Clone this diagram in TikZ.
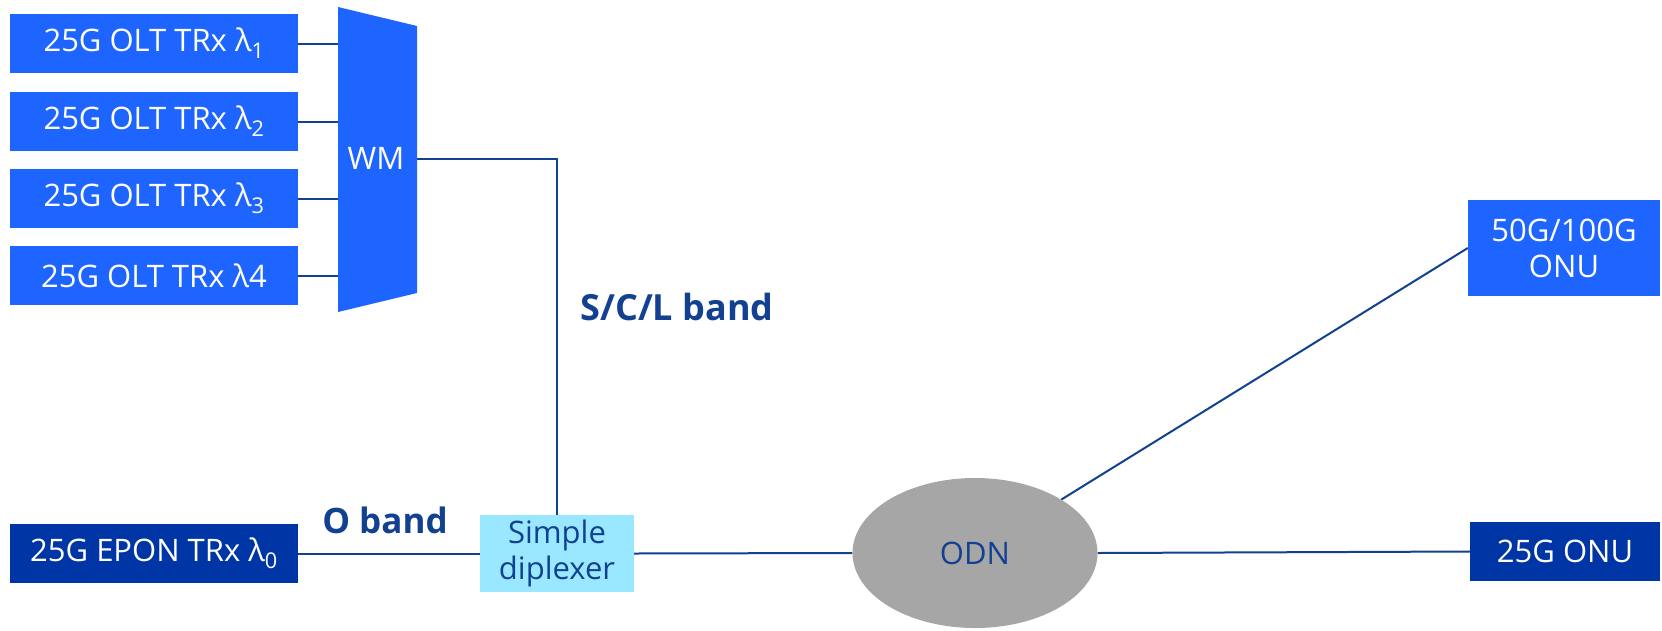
\documentclass[tikz,border=0pt]{standalone}
\usepackage{fontspec}
\setmainfont{Open Sans}
\usetikzlibrary{shapes.geometric,backgrounds}
\definecolor{brightblue}{RGB}{30,100,255}
\definecolor{darkbox}{RGB}{0,53,166}
\definecolor{linecol}{RGB}{18,65,145}
\definecolor{dipfill}{RGB}{153,232,255}
\definecolor{odngray}{RGB}{166,166,166}
\begin{document}
\begin{tikzpicture}[x=1pt,y=-1pt,
  box/.style={rectangle, inner sep=0pt, font=\fontsize{31}{36}\selectfont, text=white, align=center},
  oltbox/.style={box, fill=brightblue, minimum width=288pt, minimum height=59pt},
  darkbox/.style={box, fill=darkbox},
  conn/.style={draw=linecol, line width=2pt},
  bandlabel/.style={font=\fontsize{36}{40}\selectfont\bfseries, text=linecol, inner sep=0pt}]
\useasboundingbox (0,0) rectangle (1662,630);

% OLT transceivers
\node[oltbox] (olt1) at (154,43.5) {25G OLT TRx λ\textsubscript{1}};
\node[oltbox] (olt2) at (154,121.5) {25G OLT TRx λ\textsubscript{2}};
\node[oltbox] (olt3) at (154,198.5) {25G OLT TRx λ\textsubscript{3}};
\node[oltbox] (olt4) at (154,275.5) {25G OLT TRx λ4};

% WM trapezoid
\fill[brightblue] (338,7) -- (417,26) -- (417,293) -- (338,312) -- cycle;
\node[box] (wm) at (376,158) {WM};
\coordinate (wmL) at (340,0);
\coordinate (wmR) at (417,159);

% EPON
\node[darkbox, minimum width=288pt, minimum height=59pt] (epon) at (154,553.5) {25G EPON TRx λ\textsubscript{0}};

% Diplexer
\node[box, fill=dipfill, text=linecol, minimum width=154pt, minimum height=77pt] (dip) at (557,553.5) {Simple\\diplexer};

% ODN
\node[ellipse, fill=odngray, inner sep=0pt, minimum width=245pt, minimum height=150pt,
      text=linecol, font=\fontsize{31}{36}\selectfont] (odn) at (975,553) {ODN};

% ONUs
\node[box, fill=brightblue, minimum width=192pt, minimum height=96pt] (onu50) at (1564,248) {50G/100G\\ONU};
\node[darkbox, minimum width=190pt, minimum height=59pt] (onu25) at (1565,551.5) {25G ONU};

% labels
\node[bandlabel] (scl) at (677,307) {S/C/L band};
\node[bandlabel, font=\fontsize{35}{40}\selectfont\bfseries] (oband) at (385,520) {O band};

% connectors
\begin{pgfonlayer}{background}
\foreach \n in {olt1,olt2,olt3,olt4}
  \draw[conn] (\n.east) -- (\n.east -| wmL);
\draw[conn] (wmR) -| (dip.north);
\draw[conn] (epon.east) -- (dip.west);
\draw[conn] (dip.east) -- (odn.west);
\draw[conn] (odn.east) -- (onu25.west);
\draw[conn] (odn) -- (onu50.west);
\end{pgfonlayer}
\end{tikzpicture}
\end{document}
